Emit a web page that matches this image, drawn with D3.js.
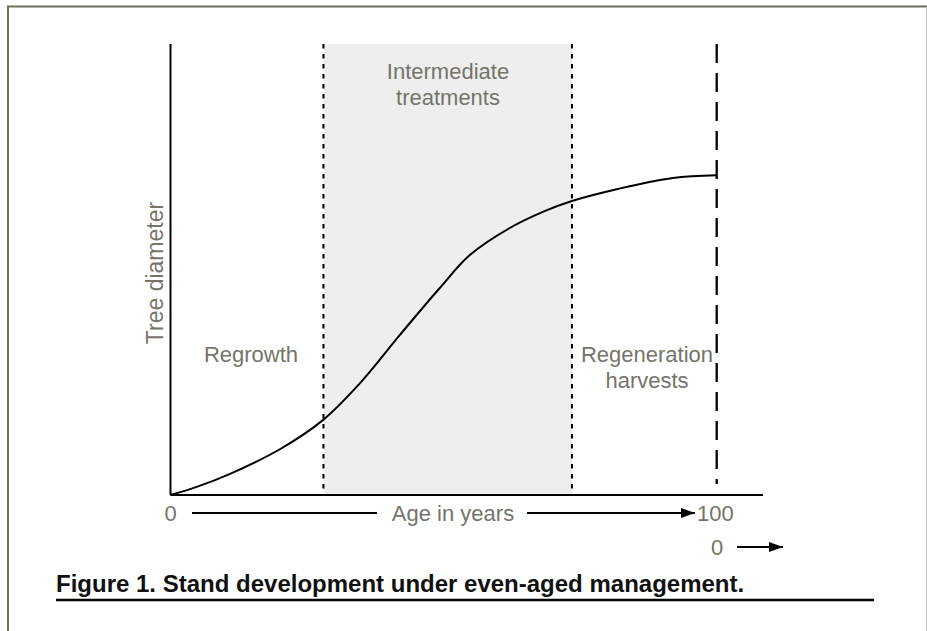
<!DOCTYPE html>
<html>
<head>
<meta charset="utf-8">
<script src="https://cdn.jsdelivr.net/npm/d3@7"></script>
<style>
  body { margin: 0; background: #fff; }
  svg { display: block; }
  text { font-family: "Liberation Sans", Arial, sans-serif; }
</style>
</head>
<body>
<svg id="chart"></svg>
<script>
'use strict';

// stand age (years) vs tree diameter (relative units)
const ages      = [0, 4.8, 10.9, 20.1, 27.9, 34.7, 42, 49.3, 54.8, 62.1, 68.6, 73.5, 81.7, 92, 100];
const diameters = [0, 1.8, 4.7, 10.2, 16.6, 24.8, 35.5, 45.9, 53.2, 59.2, 63, 65.2, 67.8, 70.3, 70.9];

// phase boundaries in years
const phaseBounds = [0, 28, 73.5, 100];
const phaseLabels = [["Regrowth"], ["Intermediate", "treatments"], ["Regeneration", "harvests"]];

const axisLabels = { x: "Age in years", y: "Tree diameter" };
const ageTicks = ["0", "100"];
const caption = "Figure 1. Stand development under even-aged management.";

const width = 927;
const height = 631;
const grey = "#74746a";

const svg = d3.select("#chart")
  .attr("width", width)
  .attr("height", height);

// frame
svg.append("line").attr("x1", 7).attr("x2", width).attr("y1", 6.5).attr("y2", 6.5)
  .attr("stroke", "#6e6e5e").attr("stroke-width", 2);
svg.append("line").attr("x1", 8).attr("x2", 8).attr("y1", 6).attr("y2", height)
  .attr("stroke", "#6e6e5e").attr("stroke-width", 2);
svg.append("line").attr("x1", 926.5).attr("x2", 926.5).attr("y1", 7).attr("y2", height)
  .attr("stroke", "#c8c8c8").attr("stroke-width", 1);

const x = d3.scaleLinear().domain([0, 100]).range([170.5, 716.7]);
const y = d3.scaleLinear().domain([0, 100]).range([495, 44]);

// shaded intermediate phase
svg.append("rect")
  .attr("x", x(phaseBounds[1]))
  .attr("y", y(100))
  .attr("width", x(phaseBounds[2]) - x(phaseBounds[1]))
  .attr("height", y(0) - y(100))
  .attr("fill", "#eeeeee");

// dotted phase dividers
svg.selectAll("line.divider")
  .data(phaseBounds.slice(1, 3))
  .enter()
  .append("line")
  .attr("class", "divider")
  .attr("x1", (d) => x(d))
  .attr("x2", (d) => x(d))
  .attr("y1", y(100))
  .attr("y2", y(0))
  .attr("stroke", "#000")
  .attr("stroke-width", 2)
  .attr("stroke-dasharray", "4.5,5.5");

// dashed rotation age line
svg.append("line")
  .attr("x1", x(100)).attr("x2", x(100))
  .attr("y1", y(100)).attr("y2", 484)
  .attr("stroke", "#000")
  .attr("stroke-width", 2.3)
  .attr("stroke-dasharray", "19,10");

// axes
svg.append("line")
  .attr("x1", x(0)).attr("x2", 763)
  .attr("y1", y(0)).attr("y2", y(0))
  .attr("stroke", "#000").attr("stroke-width", 2);
svg.append("line")
  .attr("x1", x(0)).attr("x2", x(0))
  .attr("y1", y(100)).attr("y2", y(0))
  .attr("stroke", "#000").attr("stroke-width", 2);

// growth curve
const line = d3.line()
  .x((d) => x(d[0]))
  .y((d) => y(d[1]))
  .curve(d3.curveCatmullRom.alpha(0.5));

svg.append("path")
  .datum(ages.map((a, i) => [a, diameters[i]]))
  .attr("d", line)
  .attr("fill", "none")
  .attr("stroke", "#000")
  .attr("stroke-width", 2);

// phase labels
const labelPos = [
  { cx: 251, y0: 362 },
  { cx: 448, y0: 79 },
  { cx: 647, y0: 362 },
];
phaseLabels.forEach((lines, i) => {
  const t = svg.append("text")
    .attr("text-anchor", "middle")
    .attr("font-size", "22px")
    .attr("fill", grey);
  lines.forEach((s, j) => {
    t.append("tspan")
      .attr("x", labelPos[i].cx)
      .attr("y", labelPos[i].y0 + j * 25.5)
      .text(s);
  });
});

// y axis label
svg.append("text")
  .attr("transform", "translate(163,273) rotate(-90)")
  .attr("text-anchor", "middle")
  .attr("font-size", "23px")
  .attr("fill", grey)
  .text(axisLabels.y);

// x axis labels and arrows
svg.append("defs").append("marker")
  .attr("id", "arrowhead")
  .attr("viewBox", "0 0 14 10")
  .attr("refX", 14).attr("refY", 5)
  .attr("markerWidth", 14).attr("markerHeight", 10)
  .attr("markerUnits", "userSpaceOnUse")
  .attr("orient", "auto")
  .append("path")
  .attr("d", "M0,0L14,5L0,10Z")
  .attr("fill", "#000");

svg.append("text")
  .attr("x", x(0)).attr("y", 521)
  .attr("text-anchor", "middle")
  .attr("font-size", "22px").attr("fill", grey)
  .text(ageTicks[0]);
svg.append("text")
  .attr("x", 697).attr("y", 521)
  .attr("font-size", "22px").attr("fill", grey)
  .text(ageTicks[1]);
svg.append("text")
  .attr("x", 453).attr("y", 521)
  .attr("text-anchor", "middle")
  .attr("font-size", "22px").attr("fill", grey)
  .text(axisLabels.x);

svg.append("line")
  .attr("x1", 192).attr("x2", 377).attr("y1", 513).attr("y2", 513)
  .attr("stroke", "#000").attr("stroke-width", 2);
svg.append("line")
  .attr("x1", 527).attr("x2", 695).attr("y1", 513).attr("y2", 513)
  .attr("stroke", "#000").attr("stroke-width", 2)
  .attr("marker-end", "url(#arrowhead)");

svg.append("text")
  .attr("x", 717).attr("y", 555)
  .attr("text-anchor", "middle")
  .attr("font-size", "22px").attr("fill", grey)
  .text(ageTicks[0]);
svg.append("line")
  .attr("x1", 737).attr("x2", 783).attr("y1", 547).attr("y2", 547)
  .attr("stroke", "#000").attr("stroke-width", 2)
  .attr("marker-end", "url(#arrowhead)");

// caption
svg.append("text")
  .attr("x", 56).attr("y", 592)
  .attr("font-size", "24px")
  .attr("font-weight", "bold")
  .attr("fill", "#111")
  .text(caption);
svg.append("line")
  .attr("x1", 56).attr("x2", 874).attr("y1", 600).attr("y2", 600)
  .attr("stroke", "#000").attr("stroke-width", 2.5);
</script>
</body>
</html>
